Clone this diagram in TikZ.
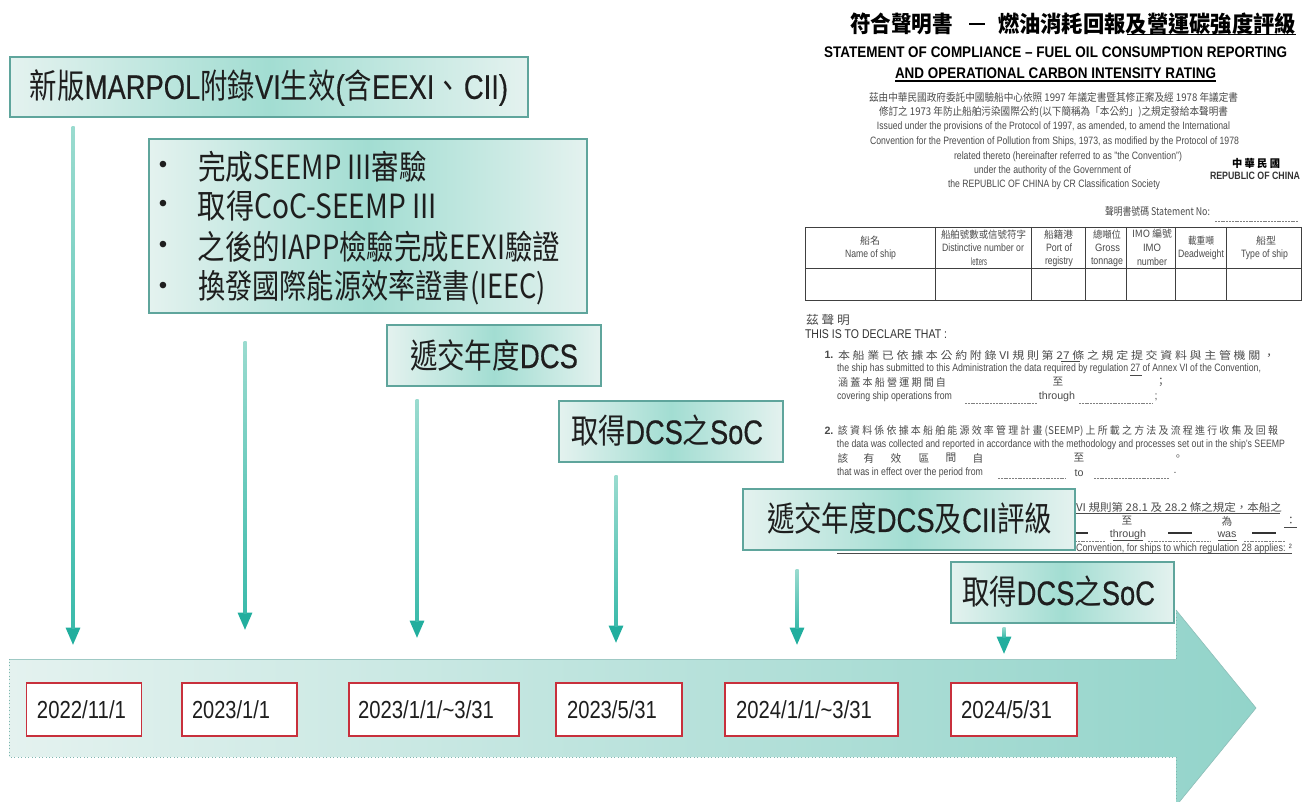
\documentclass[tikz,border=0pt]{standalone}
\usepackage{fontspec}
\usepackage{graphicx}
\usetikzlibrary{arrows.meta}
\setmainfont{Liberation Sans}
\newfontfamily\cjk{Noto Sans CJK TC}
\newfontfamily\heavy[FakeBold=0.5]{Liberation Sans}
\definecolor{edgeT}{HTML}{5FA59C}
\definecolor{lightT}{HTML}{E4F2EF}
\definecolor{midT}{HTML}{A2DDD2}
\definecolor{arrowT}{HTML}{5CC4B6}
\definecolor{arrowTop}{HTML}{9ADBCF}
\definecolor{arrowBot}{HTML}{3CBBAB}
\definecolor{headT}{HTML}{22AE9E}
\definecolor{docG}{HTML}{4A4A4A}
\definecolor{inkK}{HTML}{1E1E1E}
\definecolor{redB}{HTML}{C8303C}
\tikzset{
  x=0.75pt,y=-0.75pt,
  dl/.style={inner sep=0pt,text=docG,font=\fontsize{8}{9}\selectfont},
  dlb/.style={inner sep=0pt,text=black,font=\bfseries\fontsize{11.5}{13}\selectfont},
  rule/.style={docG,line width=0.6pt},
  dashrule/.style={gray,line width=0.5pt,dash pattern=on 1.5pt off 0.6pt},
  tbl/.style={black!75,line width=0.7pt},
  callout/.style={draw=edgeT,line width=1.1pt,left color=lightT,right color=lightT,middle color=midT},
  boxtxt/.style={inner sep=0pt,text=inkK,font=\heavy\fontsize{25.5}{28}\selectfont},
  datebox/.style={draw=redB,line width=0.8pt,fill=white},
  datetxt/.style={inner sep=0pt,text=inkK,font=\fontsize{18.5}{20}\selectfont},
  pointer/.style={arrowT,line width=2.2pt,-{Triangle[length=13pt,width=10.5pt,fill=headT,color=headT]}},
}
% name, x1, x2, y, text: a line of text fitted between x1 and x2
\newcommand\fitnode[6][dl]{\node[#1] (#2) at ({(#3+#4)/2},#5) {\resizebox{\dimexpr(#4pt-#3pt)*3/4\relax}{\height}{#6}};}
% box between corners, with a name
\newcommand\calloutbox[5]{\path[callout] (#2,#3) rectangle (#4,#5) coordinate (#1);}
\begin{document}
\begin{tikzpicture}
\useasboundingbox (0,0) rectangle (1311,802);
% ---- the certificate behind
\tikzset{ttl/.style={inner sep=0pt,text=black,font=\cjk\bfseries\fontsize{17}{19}\selectfont}}
\fitnode[ttl]{t1a}{850}{953}{24}{符合聲明書}
\draw[black,line width=0.8pt] (969,24) -- (985,24);
\fitnode[ttl]{t1b}{998}{1296}{24}{燃油消耗回報及營運碳強度評級}
\draw[black,line width=0.7pt] (1127,34) -- (1296,34);
\fitnode[dlb]{t2}{824}{1287}{52}{STATEMENT OF COMPLIANCE – FUEL OIL CONSUMPTION REPORTING}
\fitnode[dlb]{t3}{895}{1216}{73}{AND OPERATIONAL CARBON INTENSITY RATING}
\draw[black,line width=0.8pt] (895,81) -- (1216,81);
\fitnode[dl,font=\cjk\fontsize{8}{9}\selectfont]{p1}{869}{1238}{97}{茲由中華民國政府委託中國驗船中心依照 1997 年議定書暨其修正案及經 1978 年議定書}
\fitnode[dl,font=\cjk\fontsize{8}{9}\selectfont]{p2}{879}{1228}{112}{修訂之 1973 年防止船舶污染國際公約(以下簡稱為「本公約」)之規定發給本聲明書}
\fitnode{p3}{877}{1230}{127}{Issued under the provisions of the Protocol of 1997, as amended, to amend the International}
\fitnode{p4}{870}{1239}{142}{Convention for the Prevention of Pollution from Ships, 1973, as modified by the Protocol of 1978}
\fitnode{p5}{954}{1182}{157}{related thereto (hereinafter referred to as "the Convention")}
\fitnode{p6}{974}{1131}{171}{under the authority of the Government of}
\fitnode{p7}{948}{1160}{185}{the REPUBLIC OF CHINA by CR Classification Society}
\fitnode[dl,text=black,font=\cjk\bfseries\fontsize{8}{9}\selectfont]{r1}{1232}{1280}{163}{中 華 民 國}
\fitnode[dl,text=black!80,font=\bfseries\fontsize{8}{9}\selectfont]{r2}{1210}{1300}{176}{REPUBLIC OF CHINA}
\fitnode[dl,font=\cjk\fontsize{8}{9}\selectfont]{s1}{1105}{1210}{211}{聲明書號碼 Statement No:}
\draw[dashrule] (1215,221) -- (1298,221);
% table
\draw[tbl] (805,227) rectangle (1301,300);
\draw[tbl] (805,268) -- (1301,268);
\foreach \cx in {935,1031,1085,1126,1175,1226} \draw[tbl] (\cx,227) -- (\cx,300);
\fitnode[dl,font=\cjk\fontsize{7.5}{9}\selectfont]{c1a}{860}{880}{241}{船名}
\fitnode{c1b}{845}{896}{255}{Name of ship}
\fitnode[dl,font=\cjk\fontsize{7.5}{9}\selectfont]{c2a}{941}{1026}{235}{船舶號數或信號符字}
\fitnode{c2b}{942}{1024}{248}{Distinctive number or}
\fitnode{c2c}{971}{987}{262}{letters}
\fitnode[dl,font=\cjk\fontsize{7.5}{9}\selectfont]{c3a}{1044}{1073}{235}{船籍港}
\fitnode{c3b}{1046}{1072}{248}{Port of}
\fitnode{c3c}{1045}{1073}{262}{registry}
\fitnode[dl,font=\cjk\fontsize{7.5}{9}\selectfont]{c4a}{1093}{1121}{235}{總噸位}
\fitnode{c4b}{1095}{1120}{248}{Gross}
\fitnode{c4c}{1091}{1123}{262}{tonnage}
\fitnode[dl,font=\cjk\fontsize{7.5}{9}\selectfont]{c5a}{1132}{1172}{234}{IMO 編號}
\fitnode{c5b}{1143}{1161}{248}{IMO}
\fitnode{c5c}{1137}{1167}{262}{number}
\fitnode[dl,font=\cjk\fontsize{7.5}{9}\selectfont]{c6a}{1188}{1214}{241}{載重噸}
\fitnode{c6b}{1178}{1224}{255}{Deadweight}
\fitnode[dl,font=\cjk\fontsize{7.5}{9}\selectfont]{c7a}{1256}{1276}{241}{船型}
\fitnode{c7b}{1241}{1288}{255}{Type of ship}
% declaration
\fitnode[dl,font=\cjk\fontsize{9}{10}\selectfont]{d1}{806}{850}{320}{茲 聲 明}
\fitnode[dl,text=black!80,font=\fontsize{9.5}{11}\selectfont]{d2}{805}{947}{334}{THIS IS TO DECLARE THAT :}
\node[dl,font=\bfseries\fontsize{8}{9}\selectfont] (n1) at (829,355) {1.};
\fitnode[dl,font=\cjk\fontsize{8}{9}\selectfont]{d3}{838}{1275}{355}{本 船 業 已 依 據 本 公 約 附 錄 VI 規 則 第 27 條 之 規 定 提 交 資 料 與 主 管 機 關 ，}
\fitnode{d4}{837}{1261}{369}{the ship has submitted to this Administration the data required by regulation 27 of Annex VI of the Convention,}
\draw[rule] (1061,361) -- (1080,361);
\draw[rule] (1130,375) -- (1142,375);
\fitnode[dl,font=\cjk\fontsize{8}{9}\selectfont]{d5}{838}{946}{382}{涵 蓋 本 船 營 運 期 間 自}
\node[dl,font=\cjk\fontsize{8}{9}\selectfont] (d5b) at (1058,382) {至};
\node[dl,font=\cjk\fontsize{8}{9}\selectfont] (d5c) at (1161,382) {；};
\fitnode{d6}{837}{952}{397}{covering ship operations from}
\draw[dashrule] (965,403) -- (1037,403);
\node[dl] (d6b) at (1057,397) {through};
\draw[dashrule] (1079,403) -- (1152,403);
\node[dl] (d6c) at (1156,397) {;};
\node[dl,font=\bfseries\fontsize{8}{9}\selectfont] (n2) at (829,431) {2.};
\fitnode[dl,font=\cjk\fontsize{8}{9}\selectfont]{d7}{838}{1278}{431}{該 資 料 係 依 據 本 船 舶 能 源 效 率 管 理 計 畫 (SEEMP) 上 所 載 之 方 法 及 流 程 進 行 收 集 及 回 報}
\fitnode{d8}{837}{1285}{445}{the data was collected and reported in accordance with the methodology and processes set out in the ship's SEEMP}
\foreach \ch/\px/\nm in {該/843/a,有/869/b,效/896/c,區/924/d,間/951/e,自/978/f,至/1079/g,。/1178/h}
  \node[dl,font=\cjk\fontsize{8}{9}\selectfont] (d9\nm) at (\px,458) {\ch};
\fitnode{d10}{837}{983}{473}{that was in effect over the period from}
\draw[dashrule] (998,478) -- (1066,478);
\node[dl] (d10b) at (1079,473) {to};
\draw[dashrule] (1094,478) -- (1169,478);
\node[dl] (d10c) at (1175,473) {.};
\fitnode[dl,font=\cjk\fontsize{8}{9}\selectfont]{d11}{1076}{1282}{507}{VI 規則第 28.1 及 28.2 條之規定，本船之}
\draw[rule] (1076,513) -- (1280,513);
\node[dl,font=\cjk\fontsize{8}{9}\selectfont] (d12a) at (1127,521) {至};
\node[dl,font=\cjk\fontsize{8}{9}\selectfont] (d12b) at (1227,521) {為};
\node[dl,font=\cjk\fontsize{8}{9}\selectfont] (d12c) at (1291,521) {：};
\draw[rule] (1284,527) -- (1297,527);
\node[dl] (d13a) at (1128,535) {through};
\node[dl] (d13b) at (1227,535) {was};
\draw[rule] (1113,540) -- (1143,540);
\draw[rule] (1218,540) -- (1237,540);
\foreach \xa/\xb in {1075/1088,1168/1192,1252/1276} \draw[black!80,line width=0.9pt] (\xa,533) -- (\xb,533);
\foreach \xa/\xb in {1075/1105,1148/1210,1244/1285} \draw[dashrule] (\xa,541) -- (\xb,541);
\fitnode{d14}{1076}{1292}{549}{Convention, for ships to which regulation 28 applies: ²}
\draw[black!70,line width=0.7pt] (837,553) -- (1292,553);
% ---- timeline band
\shade[left color=lightT,right color=midT!90!teal]
  (9,659) -- (1176,659) -- (1176,610) -- (1256,708) -- (1176,806) -- (1176,757) -- (9,757) -- cycle;
\draw[edgeT!60,line width=0.7pt] (9,659) -- (1176,659);
\draw[edgeT!80,line width=0.6pt,dotted] (1176,659) -- (1176,610);
\draw[edgeT!70,line width=0.5pt] (1176,610) -- (1256,708) -- (1176,806);
\draw[edgeT!80,line width=0.6pt,dotted] (1176,806) -- (1176,757) -- (9,757) -- (9,659);
\tikzset{dbx/.style={datebox,minimum height=39.75pt,inner sep=0pt}}
\node[dbx,minimum width=86.25pt] (b1) at (84,709.5) {};
\node[dbx,minimum width=86.25pt] (b2) at (239.5,709.5) {};
\node[dbx,minimum width=127.5pt] (b3) at (434,709.5) {};
\node[dbx,minimum width=94.5pt] (b4) at (619,709.5) {};
\node[dbx,minimum width=129.75pt] (b5) at (811.5,709.5) {};
\node[dbx,minimum width=94.5pt] (b6) at (1014,709.5) {};
\fitnode[datetxt]{dt1}{37}{126}{709.5}{2022/11/1}
\fitnode[datetxt]{dt2}{192}{270}{709.5}{2023/1/1}
\fitnode[datetxt]{dt3}{358}{494}{709.5}{2023/1/1/\char`\~3/31}
\fitnode[datetxt]{dt4}{567}{657}{709.5}{2023/5/31}
\fitnode[datetxt]{dt5}{736}{872}{709.5}{2024/1/1/\char`\~3/31}
\fitnode[datetxt]{dt6}{961}{1052}{709.5}{2024/5/31}
% ---- callouts
\calloutbox{k1}{10}{57}{528}{117}
\calloutbox{k2}{149}{139}{587}{313}
\calloutbox{k3}{387}{325}{601}{386}
\calloutbox{k4}{559}{401}{783}{462}
\calloutbox{k5}{743}{489}{1075}{550}
\calloutbox{k6}{951}{562}{1174}{623}
\fitnode[boxtxt]{e1}{30}{508}{88}{{\cjk 新版}MARPOL{\cjk 附錄}VI{\cjk 生效}({\cjk 含}EEXI{\cjk 、}\hspace{2pt}CII)}
\foreach \by/\nm in {167/a,206/b,247/c,288/d} \node[text=inkK,inner sep=0pt,font=\fontsize{18}{20}\selectfont] (bul\nm) at (163,\by) {•};
\tikzset{bl/.style={inner sep=0pt,text=inkK,font=\cjk\fontsize{25}{28}\selectfont}}
\fitnode[bl]{e2a}{198}{427}{167}{完成SEEMP III審驗}
\fitnode[bl]{e2b}{198}{437}{206}{取得CoC-SEEMP III}
\fitnode[bl]{e2c}{198}{560}{247}{之後的IAPP檢驗完成EEXI驗證}
\fitnode[bl]{e2d}{198}{546}{288}{換發國際能源效率證書(IEEC)}
\fitnode[boxtxt]{e3}{410}{578}{355}{{\cjk 遞交年度}DCS}
\fitnode[boxtxt]{e4}{571}{763}{431}{{\cjk 取得}DCS{\cjk 之}SoC}
\fitnode[boxtxt]{e5}{767}{1052}{519}{{\cjk 遞交年度}DCS{\cjk 及}CII{\cjk 評級}}
\fitnode[boxtxt]{e6}{962}{1155}{592}{{\cjk 取得}DCS{\cjk 之}SoC}
% ---- pointers
\coordinate (a1s) at (73,127);   \coordinate (a1e) at (73,645);
\coordinate (a2s) at (245,342);  \coordinate (a2e) at (245,630);
\coordinate (a3s) at (417,400);  \coordinate (a3e) at (417,638);
\coordinate (a4s) at (616,475);  \coordinate (a4e) at (616,643);
\coordinate (a5s) at (797,569);  \coordinate (a5e) at (797,645);
\coordinate (a6s) at (1004,627); \coordinate (a6e) at (1004,654);
\foreach \i in {1,...,6} \draw[pointer] (a\i s) -- (a\i e);
% paler upper parts of the shafts
\foreach \px/\ya/\yb in {73/127/628,245/342/613,417/400/621,616/475/626,797/569/628,1004/627/637}
  \shade[top color=arrowTop,bottom color=arrowBot] ({\px-1.5},\ya) rectangle ({\px+1.5},\yb);
\end{tikzpicture}
\end{document}
